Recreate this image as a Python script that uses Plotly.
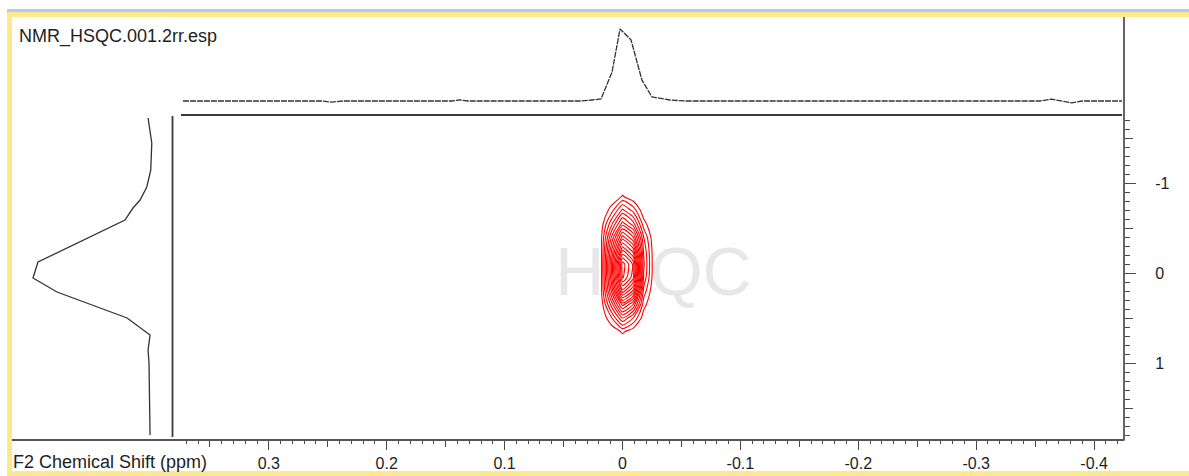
import plotly.graph_objects as go

W, H = 1189, 476

# ---------------- data ----------------
# F2 (top) projection: chemical shift (ppm) and intensity
top_ppm = [0.3728, 0.255, 0.247, 0.237, 0.145, 0.138, 0.131, 0.035, 0.0259, 0.0182,
           0.0089, 0.0021, -0.0072, -0.0165, -0.025, -0.0403, -0.053, -0.354, -0.364,
           -0.373, -0.381, -0.390, -0.4237]
top_int = [0, 0, -1.5, 0, 0, 1.5, 0, 0, 1.4, 2.8,
           40, 100, 85, 29, 5.6, 1.4, 0, 0, 2.5,
           0, -2.5, 0, 0]

# F1 (left) projection
f1_ppm = [-1.722, -1.444, -1.144, -0.956, -0.811, -0.722, -0.589, -0.122, 0.056,
          0.211, 0.5, 0.667, 0.689, 0.856, 1.0, 1.8]
f1_int = [1.7, -1.5, -0.6, 2.8, 8.6, 14.7, 21.6, 96.6, 100.9,
          80.2, 19.8, 2.6, 0, 1.7, 0.9, 0]

# 2D HSQC intensity grid
grid_f2 = [-0.036, -0.027, -0.018, -0.009, 0.0, 0.009, 0.018, 0.027, 0.036]
grid_f1 = [-1.15, -1.0, -0.85, -0.7, -0.55, -0.4, -0.25, -0.1, 0.05, 0.2, 0.35, 0.5, 0.65, 0.8]
grid_z = [
    [0, 0, 0, 0, 1, 0, 0, 0, 0],
    [0, 0, 0, 1, 4, 1, 0, 0, 0],
    [0, 0, 0, 4, 8.5, 3, 0, 0, 0],
    [0, 0, 4, 16, 24, 11, 2, 0, 0],
    [0, 2, 10, 30, 40, 22, 5, 0, 0],
    [0, 3, 18, 48, 60, 34, 7, 1, 0],
    [0, 4, 22, 66, 78, 44, 7, 1, 0],
    [0, 4, 24, 82, 96, 50, 7, 1, 0],
    [0, 4, 22, 80, 94, 48, 7, 1, 0],
    [0, 3, 16, 62, 76, 40, 7, 1, 0],
    [0, 2, 10, 38, 50, 26, 5, 1, 0],
    [0, 1, 5, 18, 28, 13, 3, 0, 0],
    [0, 0, 1, 5, 9, 4, 1, 0, 0],
    [0, 0, 0, 1, 3, 1, 0, 0, 0],
]

x_tick_vals = [0.3, 0.2, 0.1, 0.0, -0.1, -0.2, -0.3, -0.4]
x_tick_text = ["0.3", "0.2", "0.1", "0", "-0.1", "-0.2", "-0.3", "-0.4"]
y_tick_vals = [-1, 0, 1]
y_tick_text = ["-1", "0", "1"]

title_text = "NMR_HSQC.001.2rr.esp"
x_label = "F2 Chemical Shift (ppm)"
watermark = "HSQC"

# ---------------- layout geometry ----------------
def fx(p):
    return p / W

def fy(p):
    return 1 - p / H

X_RANGE = [(622.5 - 183) / 1179, (622.5 - 1124) / 1179]
Y_RANGE = [(439 - 273) / 90, (116 - 273) / 90]
X_DOM = [fx(183), fx(1124)]
Y_DOM = [fy(439), fy(116)]

FONT = "Liberation Sans, Arial, sans-serif"
TXT = "#1e1e1e"
AX = "#4a4a4a"

fig = go.Figure()

# watermark (base subplot, below contour)
fig.add_trace(go.Scatter(
    x=[(X_RANGE[0] + X_RANGE[1]) / 2], y=[(Y_RANGE[0] + Y_RANGE[1]) / 2],
    mode="text", text=[watermark],
    textfont=dict(size=68, color="#e7e7e7", family=FONT),
    hoverinfo="skip", showlegend=False, xaxis="x", yaxis="y"))

# contour (overlay subplot, above watermark)
fig.add_trace(go.Contour(
    x=grid_f2, y=grid_f1, z=grid_z,
    contours=dict(coloring="lines", start=8, end=98, size=5),
    colorscale=[[0, "#ff0000"], [1, "#ff0000"]],
    line=dict(width=1.1, smoothing=0.6),
    showscale=False, hoverinfo="skip", xaxis="x4", yaxis="y4"))

# top projection
fig.add_trace(go.Scatter(
    x=top_ppm, y=top_int, mode="lines",
    line=dict(color="#333333", width=1.3, dash="6px,1px"),
    hoverinfo="skip", showlegend=False, xaxis="x2", yaxis="y2"))

# left projection
fig.add_trace(go.Scatter(
    x=f1_int, y=f1_ppm, mode="lines",
    line=dict(color="#333333", width=1.3),
    hoverinfo="skip", showlegend=False, xaxis="x3", yaxis="y3"))

common_hidden = dict(showgrid=False, zeroline=False, showline=False)

fig.update_layout(
    width=W, height=H, autosize=False,
    margin=dict(l=0, r=0, t=0, b=0),
    paper_bgcolor="white", plot_bgcolor="rgba(0,0,0,0)",
    showlegend=False,
    font=dict(family=FONT, color=TXT),
    xaxis=dict(domain=X_DOM, range=X_RANGE, anchor="y", side="bottom",
               tickmode="array", tickvals=x_tick_vals, ticktext=x_tick_text,
               ticks="outside", ticklen=10, tickwidth=1.3, tickcolor=AX,
               tickfont=dict(size=16, color=TXT, family=FONT),
               minor=dict(tickmode="linear", tick0=0, dtick=0.01, ticks="outside",
                          ticklen=4, tickwidth=1.2, tickcolor=AX, showgrid=False),
               **common_hidden),
    yaxis=dict(domain=Y_DOM, range=Y_RANGE, anchor="x", side="right",
               tickmode="array", tickvals=y_tick_vals, ticktext=y_tick_text,
               ticks="outside", ticklen=11, tickwidth=1.3, tickcolor=AX,
               ticklabelstandoff=16,
               tickfont=dict(size=16, color=TXT, family=FONT),
               minor=dict(tickmode="linear", tick0=0, dtick=0.1, ticks="outside",
                          ticklen=5, tickwidth=1.2, tickcolor=AX, showgrid=False),
               **common_hidden),
    xaxis4=dict(domain=X_DOM, range=X_RANGE, anchor="y4", overlaying="x", side="bottom",
                tickmode="linear", tick0=0, dtick=0.05, ticks="outside", ticklen=7,
                tickwidth=1.2, tickcolor=AX, showticklabels=False, **common_hidden),
    yaxis4=dict(domain=Y_DOM, range=Y_RANGE, anchor="x4", overlaying="y", side="right",
                tickmode="linear", tick0=0, dtick=0.5, ticks="outside", ticklen=8,
                tickwidth=1.2, tickcolor=AX, showticklabels=False, **common_hidden),
    xaxis2=dict(domain=X_DOM, range=X_RANGE, anchor="y2", visible=False),
    yaxis2=dict(domain=[fy(112), fy(17)], range=[-15.3, 116.7], anchor="x2", visible=False),
    xaxis3=dict(domain=[fx(12), fx(170)], range=[119, -17.2], anchor="y3", visible=False),
    yaxis3=dict(domain=Y_DOM, range=Y_RANGE, anchor="x3", visible=False),
)

shapes = []
def prect(x0, y0, x1, y1, color):
    shapes.append(dict(type="rect", xref="paper", yref="paper",
                       x0=fx(x0), x1=fx(x1), y0=fy(y1), y1=fy(y0),
                       fillcolor=color, line=dict(width=0), layer="below"))

def pline(x0, y0, x1, y1, color, width):
    shapes.append(dict(type="line", xref="paper", yref="paper",
                       x0=fx(x0), x1=fx(x1), y0=fy(y0), y1=fy(y1),
                       line=dict(color=color, width=width), layer="above"))

# window frame
prect(7, 9, W, 12, "#b2cbef")
prect(7, 12, W, 17, "#fde98c")
prect(7, 12, 12, H, "#fde98c")
prect(7, 471, W, H, "#fde98c")

# axes / frame lines
pline(12, 440, 1124.5, 440, "#555555", 1.8)       # bottom axis line
pline(1124, 17, 1124, 440, "#555555", 1.8)        # right axis line
pline(181, 115, 1122, 115, "#3a3a3a", 2)          # top border of 2D area
pline(172.5, 116, 172.5, 437, "#3a3a3a", 1.8)     # left separator

fig.update_layout(shapes=shapes)

fig.add_annotation(text=title_text, xref="paper", yref="paper",
                   x=fx(17), y=fy(37), xanchor="left", yanchor="middle",
                   showarrow=False, font=dict(size=18, color=TXT, family=FONT))
fig.add_annotation(text=x_label, xref="paper", yref="paper",
                   x=fx(11), y=fy(462), xanchor="left", yanchor="middle",
                   showarrow=False, font=dict(size=18, color=TXT, family=FONT))

fig.write_html("out.html",
               config={"displayModeBar": False},
               post_script="document.body.style.margin='0';document.body.style.overflow='hidden';")
